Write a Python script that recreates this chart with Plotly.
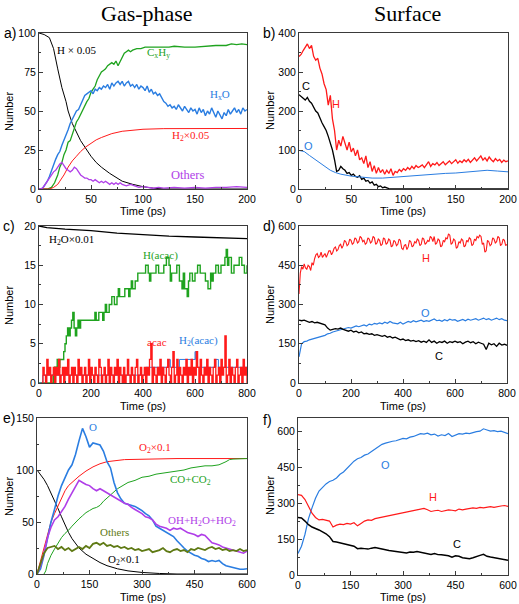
import plotly.graph_objects as go

W, H = 519, 604

# ---------------- Panel a (gas phase, 0-200 ps) ----------------
a_t2 = list(range(0, 201, 2))
a_HxO = [0,0,1,3,5,8,12,15,19,22,
         24,28,31,35,38,42,45,47,50,51,
         54,57,60,61,62,63,61,64,63,65,
         64,66,65,67,64,68,66,68,69,67,
         69,66,68,69,66,67,65,67,64,66,
         65,63,66,62,64,61,62,60,61,58,
         56,55,53,54,52,53,51,54,52,50,
         53,51,49,52,50,51,48,52,49,51,
         47,50,48,52,49,46,50,47,45,49,
         47,51,48,50,52,49,51,48,52,50,
         51]
a_H_t = [0,5,10,14,18,22,26,28,32,36,40,46,50,55,60,68,75,80,90,100,110,120,200]
a_H = [100,99,97,90,77,65,56,50,42,36,31,25,21,17,14,10,7,5,3,1.5,0.5,0,0]
a_CxHy_t = [0,8,12,15,18,20,22,24,26,28,30,32,34,36,38,40,42,44,46,48,50,52,54,56,58,60,62,64,66,68,70,72,74,76,78,80,82,84,86,88,90,94,98,102,106,110,115,120,125,130,140,150,160,170,180,185,190,195,200]
a_CxHy = [0,0,1,4,9,14,17,22,25,30,31,35,40,43,45,48,50,53,56,58,62,64,66,70,73,75,76,77,79,80,81,80,82,79,82,85,87,88,89,88,89,90,90,91,91,91,91,91,91,91.5,91,91,91.5,92,92,93,92.5,93,92.5]
a_H2_t = [0,10,14,18,20,24,28,32,36,40,45,50,55,60,70,80,90,100,120,150,200]
a_H2 = [0,0,1,3,5,9,14,18,21,24,27,29.5,31.5,33,35.5,37,37.8,38.3,38.7,38.8,38.8]
a_oth_t = [0,2,4,6,8,10,12,14,16,18,20,22,24,26,28,30,32,34,36,38,40,42,44,46,48,50,52,54,56,58,60,62,64,66,68,70,72,74,76,78,80,84,88,92,96,100,105,110,115,120,130,140,150,160,170,180,190,200]
a_oth = [0,0,1,3,5,7,9,11,12,14,16,17,15,13,12,11,12,14,13,11,9,8,7,7,6,6,5,6,5,4,5,4,5,4,3,4,3,4,3,4,3,2,3,2,1,1.5,1,0.5,1,0.5,1,0.5,1,0.5,1,1,1.5,1]

# ---------------- Panel b (surface, 0-200 ps) ----------------
b_t2 = list(range(0, 201, 2))
b_H = [340,345,355,365,372,360,368,340,330,335,
       310,295,270,255,215,240,180,150,100,125,
       110,135,115,100,120,95,105,85,100,75,
       80,65,85,55,70,45,60,40,55,42,
       50,38,48,40,52,35,45,42,50,45,
       52,48,55,50,58,52,60,55,58,62,
       55,63,70,58,65,62,68,60,66,70,
       62,68,72,65,70,75,66,72,68,75,
       70,76,68,74,80,72,78,85,74,80,
       72,82,75,70,78,72,76,68,74,70,
       72]
b_C_t = [0,2,4,6,8,10,12,14,16,18,20,22,24,26,28,30,32,34,36,38,40,42,44,46,48,50,52,54,56,58,60,62,64,66,68,70,72,74,76,78,80,82,84,86,88,90,100,150,200]
b_C = [242,238,232,228,235,225,220,210,200,195,180,170,160,150,135,120,100,75,45,48,58,52,48,40,42,35,38,32,30,34,25,28,20,22,15,18,10,12,6,8,3,5,2,1,0,0,0,0,0]
b_O_t = [0,5,10,15,20,25,30,35,40,50,60,70,80,90,100,110,120,130,140,150,160,170,180,190,200]
b_O = [99,96,86,76,66,56,48,42,38,33,30,28,28,30,33,35,36,38,40,41,43,46,48,46,44]

# ---------------- Panel c (gas phase, 0-800 ps) ----------------
c_H2O_t = [0,30,100,200,300,400,500,600,700,800]
c_H2O = [20,19.8,19.6,19.4,19.1,18.9,18.7,18.6,18.5,18.4]
c_Hacac_t = [0,55,60,70,75,80,90,95,100,105,110,115,120,125,130,135,140,145,150,155,160,170,180,200,215,220,230,240,245,250,255,260,270,280,290,300,305,310,320,330,340,345,350,355,360,370,380,390,400,410,420,425,430,440,450,460,470,480,490,500,505,510,520,530,540,550,555,560,570,575,580,590,600,610,620,630,640,650,660,665,670,680,690,700,710,715,720,725,730,740,750,760,770,780,790,800]
c_Hacac = [0,1,2,3,2,3,3,4,5,6,
           7,6,7,8,9,7,6,7,8,7,
           8,8,8,8,9,8,9,9,8,9,
           10,9,10,11,10,11,12,11,11,12,
           12,11,12,13,12,13,14,14,14,15,
           14,13,14,14,15,14,14,15,16,15,
           13,14,14,15,13,12,14,12,11,13,
           14,13,14,15,14,14,13,12,14,13,
           14,15,14,15,15,16,17,15,16,14,
           15,15,16,15,14,15]
c_acac_t = list(range(10, 801, 5))
c_acac = [0,2,1,0,3,1,2,0,1,2,
          0,2,1,3,0,1,2,0,2,1,
          3,0,1,2,0,2,1,0,3,1,
          2,0,1,2,0,1,3,0,2,1,
          0,2,1,0,3,2,0,1,2,0,
          1,3,0,2,1,0,2,1,3,0,
          2,1,0,2,0,1,3,1,0,2,
          1,0,2,3,0,1,2,0,1,2,
          0,2,1,3,5,0,2,1,0,2,
          1,3,0,2,1,0,2,3,1,0,
          2,4,0,1,3,0,2,1,0,2,
          1,3,0,2,1,3,0,2,1,4,
          2,0,3,1,0,2,1,3,0,2,
          1,0,2,3,0,1,2,0,3,1,
          2,6,0,1,3,0,2,1,0,2,
          3,0,1,2,0,3,1,2,0]
c_H2acac_t = [0,15,410,500,505,510,540,600,603,607,680,690,700,800]
c_H2acac = [0,1,2,3,2,2,3,4,3,2,3,2,2,2]

# ---------------- Panel d (surface, 0-800 ps) ----------------
d_t = list(range(0, 801, 10))
d_tH = list(range(0, 801, 5))
d_H = [340,420,445,435,455,440,435,450,445,430,
       460,450,475,490,495,480,485,500,480,490,
       495,480,490,505,505,490,500,515,520,505,
       510,525,530,515,525,545,540,525,530,550,
       545,530,535,555,550,535,540,560,555,540,
       545,530,535,555,550,535,540,560,555,530,
       535,550,545,525,530,555,550,530,535,550,
       545,520,525,545,540,525,530,550,545,515,
       510,525,530,510,520,545,540,520,525,540,
       535,550,545,525,530,555,550,530,535,545,
       540,560,555,540,560,530,535,550,545,520,
       525,545,540,555,550,570,565,530,535,550,
       545,515,520,540,535,550,545,520,525,545,
       540,555,550,525,530,550,545,560,555,565,
       560,530,535,500,505,545,540,525,530,555,
       550,535,540,560,555,525,530,550,545,525,
       530]
d_O = [100,150,158,160,165,168,172,175,178,180,
       182,188,190,195,198,200,203,205,208,212,
       210,215,218,215,220,222,218,225,222,228,
       225,230,226,232,228,235,230,228,226,232,
       225,230,235,232,238,234,236,240,235,238,
       236,242,245,238,240,236,242,238,244,240,
       242,236,240,243,238,244,240,242,246,240,
       244,248,242,246,240,244,248,242,246,240,
       238]
d_C = [240,238,240,236,232,235,230,232,228,225,
       222,210,202,205,208,206,210,205,200,198,
       202,195,198,192,195,188,190,186,188,182,
       185,180,178,182,175,178,172,175,170,165,
       168,162,165,160,163,158,162,156,160,155,
       165,155,160,152,158,155,160,152,158,155,
       160,155,158,150,156,160,154,158,150,156,
       152,148,128,152,146,150,140,152,145,148,
       144]

# ---------------- Panel e (gas phase, 0-600 ps) ----------------
e_t = list(range(0, 601, 10))
e_O = [0,5,18,35,50,62,75,85,92,100,
       105,115,128,140,132,122,126,125,124,118,
       108,102,88,78,72,68,67,66,65,63,
       61,58,56,52,46,44,42,40,38,36,
       32,28,25,22,20,18,17,15,14,12,
       13,12,13,10,8,7,6,5,4.5,4.5,
       5]
e_OH = [0,8,20,35,45,52,55,60,65,72,
        78,85,90,88,86,85,82,80,82,80,
        78,76,74,72,70,68,67,64,62,60,
        58,55,54,52,48,46,45,44,42,44,
        43,44,42,40,39,38,36,38,37,33,
        30,29,28,26,25,24,23,22,21,20,
        22]
e_oth = [0,10,20,25,26,27,24,26,23,25,
         22,24,26,24,27,25,29,30,28,30,
         27,28,26,27,25,26,24,25,23,24,
         22,23,24,21,22,23,25,22,21,23,
         24,22,23,21,24,23,25,24,23,25,
         26,24,25,23,24,22,23,22,24,22,
         23]
e_O2r_t = [0,10,20,30,40,50,60,70,80,90,100,120,140,160,180,200,250,300,400,500,600]
e_O2r = [0,12,25,38,50,58,65,73,80,85,88,94,99,103,106,108,110,110.5,111,111,111]
e_CO_t = [20,25,30,40,50,60,70,80,90,100,110,120,130,140,150,160,170,180,190,200,210,220,230,240,250,260,280,300,320,340,360,380,400,420,440,460,480,500,520,540,550,560,580,600]
e_CO = [0,3,10,18,24,30,35,39,42,46,50,53,56,59,61,63,64,66,70,73,76,79,82,84,86,88,90,93,94,96,97,98,99,100,102,103,104,104,105,108,110,110.5,111,111]
e_O2k_t = [0,10,20,30,40,50,60,70,80,90,100,120,140,160,180,200,230,260,300,350,400,600]
e_O2k = [100,96,91,85,78,71,63,55,47,40,34,25,19,15,11,8,5,3,1.5,0.5,0,0]

# ---------------- Panel f (surface, 0-600 ps) ----------------
f_t = list(range(0, 601, 10))
f_O = [90,120,170,235,280,320,350,365,380,390,
       395,405,420,430,445,460,475,485,490,500,
       505,515,525,535,545,550,555,558,560,565,
       570,568,575,578,585,590,588,592,585,588,
       580,585,582,590,578,585,590,588,592,590,
       595,598,600,610,605,600,602,598,600,596,
       590]
f_H = [335,332,315,285,258,240,230,232,228,225,
       200,208,212,210,215,212,218,205,215,225,
       230,228,235,238,242,245,248,252,255,258,
       262,265,268,270,272,275,278,272,265,268,
       270,265,268,272,270,268,275,272,275,278,
       280,278,282,280,283,285,282,286,288,290,
       286]
f_C = [240,238,225,210,200,195,188,180,172,160,
       140,138,135,132,128,125,120,110,112,110,
       108,112,115,112,108,105,102,100,98,96,
       95,92,96,95,98,95,92,88,86,90,
       85,84,82,80,74,80,78,72,70,68,
       72,78,82,86,78,75,72,70,68,66,
       62]

# ---------------- styling ----------------
BLACK = "#000000"
RED = "#ff1a1a"
BLUE = "#2a7de1"
GREEN = "#1fa31f"
PURPLE = "#b03ee8"
OLIVE = "#5f7a14"

SERIF = "Liberation Serif"
SANS = "Liberation Sans"

panels = {
    1: (39, 247, 33, 189, [0, 200], [0, 100], [0, 50, 100, 150, 200], [0, 25, 50, 75, 100], 25, 12.5),
    2: (299, 508, 33, 189, [0, 200], [0, 400], [0, 50, 100, 150, 200], [0, 100, 200, 300, 400], 25, 50),
    3: (39, 247, 226, 383, [0, 800], [0, 20], [0, 200, 400, 600, 800], [0, 5, 10, 15, 20], 100, 2.5),
    4: (299, 507, 226, 383, [0, 800], [0, 600], [0, 200, 400, 600, 800], [0, 150, 300, 450, 600], 100, 75),
    5: (37, 247, 418, 574, [0, 600], [0, 150], [0, 150, 300, 450, 600], [0, 50, 100, 150], 75, 25),
    6: (298, 508, 418, 575, [0, 600], [0, 655], [0, 150, 300, 450, 600], [0, 150, 300, 450, 600], 75, 75),
}

fig = go.Figure()


def add(i, x, y, color, shape="linear", width=1.0):
    n = min(len(x), len(y))
    fig.add_trace(go.Scatter(
        x=list(x)[:n], y=list(y)[:n], mode="lines",
        line=dict(color=color, width=width, shape=shape),
        xaxis="x" if i == 1 else f"x{i}", yaxis="y" if i == 1 else f"y{i}",
        showlegend=False, hoverinfo="skip"))


# a
add(1, a_H_t, a_H, BLACK)
add(1, a_CxHy_t, a_CxHy, GREEN, width=1.3)
add(1, a_t2, a_HxO, BLUE, width=1.4)
add(1, a_H2_t, a_H2, RED)
add(1, a_oth_t, a_oth, PURPLE, width=1.3)
# b
add(2, b_t2, b_H, RED, width=1.3)
add(2, b_C_t, b_C, BLACK, width=1.3)
add(2, b_O_t, b_O, BLUE)
# c
add(3, c_H2O_t, c_H2O, BLACK, width=1.3)
add(3, c_Hacac_t, c_Hacac, GREEN, shape="hv", width=1.4)
add(3, c_H2acac_t, c_H2acac, BLUE, shape="hv")
add(3, c_acac_t, c_acac, RED, shape="hv", width=1.3)
# d
add(4, d_tH, d_H, RED, width=1.1)
add(4, d_t, d_O, BLUE, width=1.2)
add(4, d_t, d_C, BLACK, width=1.3)
# e
add(5, e_O2k_t, e_O2k, BLACK)
add(5, e_O2r_t, e_O2r, RED)
add(5, e_CO_t, e_CO, GREEN)
add(5, e_t, e_O, BLUE, width=1.6)
add(5, e_t, e_OH, PURPLE, width=1.6)
add(5, e_t, e_oth, OLIVE, width=1.8)
# f
add(6, f_t, f_O, BLUE, width=1.2)
add(6, f_t, f_H, RED, width=1.2)
add(6, f_t, f_C, BLACK, width=1.5)

layout = dict(
    width=W, height=H, margin=dict(l=0, r=0, t=0, b=0, autoexpand=False),
    paper_bgcolor="white", plot_bgcolor="white", showlegend=False,
)
for i, (L, R, T, B, xr, yr, xt, yt, xm, ym) in panels.items():
    common = dict(showgrid=False, zeroline=False, showline=True, linecolor="#3a3a3a",
                  linewidth=1, mirror=True, ticks="inside", ticklen=4, tickcolor="#3a3a3a",
                  automargin=False,
                  tickfont=dict(family=SANS, size=10.5, color="black"))
    xa = dict(common, domain=[L / W, R / W], range=xr, tickvals=xt,
              anchor="y" if i == 1 else f"y{i}",
              minor=dict(dtick=xm, ticks="inside", ticklen=2, tickcolor="#3a3a3a"))
    ya = dict(common, domain=[1 - B / H, 1 - T / H], range=yr, tickvals=yt,
              anchor="x" if i == 1 else f"x{i}",
              minor=dict(dtick=ym, ticks="inside", ticklen=2, tickcolor="#3a3a3a"))
    layout["xaxis" if i == 1 else f"xaxis{i}"] = xa
    layout["yaxis" if i == 1 else f"yaxis{i}"] = ya

fig.update_layout(**layout)

ann = []


def paper_text(x, y, text, size, family=SANS, color="black", angle=0, xanchor="center"):
    ann.append(dict(x=x / W, y=1 - y / H, xref="paper", yref="paper", text=text,
                    showarrow=False, font=dict(family=family, size=size, color=color),
                    textangle=angle, xanchor=xanchor, yanchor="middle"))


def data_text(i, x, y, text, color, size=11, family=SERIF):
    ann.append(dict(x=x, y=y, xref="x" if i == 1 else f"x{i}", yref="y" if i == 1 else f"y{i}",
                    text=text, showarrow=False, font=dict(family=family, size=size, color=color),
                    xanchor="center", yanchor="middle"))


paper_text(147, 13, "Gas-phase", 22, family=SERIF)
paper_text(407, 13, "Surface", 22, family=SERIF)
for lab, x, y in [("a)", 10, 33), ("b)", 269, 33), ("c)", 9, 226), ("d)", 269, 226), ("e)", 9, 418), ("f)", 267, 420)]:
    paper_text(x, y, lab, 14)
for y in [111, 305, 496]:
    paper_text(9, y, "Number", 11, angle=-90)
    paper_text(270, y, "Number", 11, angle=-90)
for y in [211, 406, 597]:
    paper_text(143, y, "Time (ps)", 11)
    paper_text(403, y, "Time (ps)", 11)

data_text(1, 36, 89, "H × 0.05", BLACK)
data_text(1, 115, 87, "C<sub>x</sub>H<sub>y</sub>", GREEN)
data_text(1, 174, 60, "H<sub>x</sub>O", BLUE)
data_text(1, 146, 34, "H<sub>2</sub>×0.05", RED)
data_text(1, 143, 9, "Others", PURPLE, size=12.5)

data_text(2, 7, 265, "C", BLACK, family=SANS)
data_text(2, 35, 218, "H", RED, family=SANS)
data_text(2, 9, 111, "O", BLUE, family=SANS)

data_text(3, 126, 18.2, "H<sub>2</sub>O×0.01", BLACK)
data_text(3, 467, 16.2, "H(acac)", GREEN)
data_text(3, 452, 5.2, "acac", RED)
data_text(3, 612, 5.4, "H<sub>2</sub>(acac)", BLUE)

data_text(4, 490, 477, "H", RED, family=SANS)
data_text(4, 486, 267, "O", BLUE, family=SANS)
data_text(4, 538, 105, "C", BLACK, family=SANS)

data_text(5, 159, 141, "O", BLUE)
data_text(5, 336, 121, "O<sub>2</sub>×0.1", RED)
data_text(5, 438, 90, "CO+CO<sub>2</sub>", GREEN)
data_text(5, 472, 51, "OH+H<sub>2</sub>O+HO<sub>2</sub>", PURPLE)
data_text(5, 220, 40, "Others", OLIVE)
data_text(5, 248, 13, "O<sub>2</sub>×0.1", BLACK)

data_text(6, 249, 461, "O", BLUE, family=SANS)
data_text(6, 387, 326, "H", RED, family=SANS)
data_text(6, 455, 129, "C", BLACK, family=SANS)

fig.update_layout(annotations=ann)
fig.write_html("out.html", config={"displayModeBar": False},
               post_script="document.body.style.margin='0';")
